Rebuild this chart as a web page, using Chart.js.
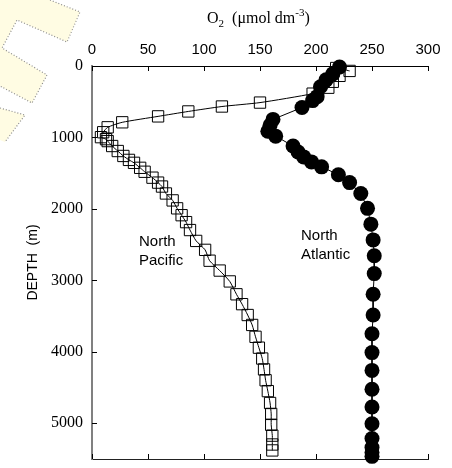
<!DOCTYPE html>
<html lang="en">

<head>
    <meta charset="UTF-8">
    <title>Oxygen profiles</title>
    <script src="https://cdn.jsdelivr.net/npm/chart.js"></script>
    <style>
        html, body { margin: 0; padding: 0; background: #fff; }
        .zone { width: 452px; height: 468px; position: relative; }
    </style>
</head>

<body>
    <div class="zone">
        <canvas id="o2Chart" width="452" height="468"></canvas>
    </div>

    <script>
        // oxygen (umol dm-3) against depth (m)
        const pacificO2 = [230, 218, 221, 215, 211, 197, 150, 116, 86, 59, 27, 14, 10, 8, 12.5, 14, 18, 23, 28, 33, 37.5, 43, 47, 54, 59, 62.5, 66, 72, 76, 80, 84, 87.5, 93, 101, 105, 114, 123, 129, 134, 139, 143, 146, 149, 152, 153.6, 155, 157, 159, 160, 160, 161, 161, 161];
        const pacificDepth = [69, 28, 138, 221, 304, 387, 512, 567, 636, 705, 788, 858, 927, 996, 1024, 1051, 1120, 1190, 1259, 1314, 1355, 1425, 1480, 1563, 1632, 1687, 1784, 1881, 1992, 2088, 2185, 2296, 2448, 2573, 2725, 2863, 3015, 3195, 3333, 3485, 3624, 3790, 3942, 4094, 4246, 4398, 4550, 4716, 4869, 5021, 5173, 5297, 5380];

        const atlanticO2 = [221, 215, 209, 204, 201, 197, 187.5, 161.6, 159, 157, 164, 179.5, 184, 189, 196, 205, 220, 230, 240, 246, 249, 251, 252, 252, 251, 251, 250, 250, 250, 250, 250, 250, 250, 250, 250, 250];
        const atlanticDepth = [14, 110, 194, 290, 429, 484, 581, 747, 830, 913, 982, 1120, 1203, 1272, 1342, 1411, 1521, 1632, 1784, 1992, 2213, 2434, 2656, 2905, 3195, 3485, 3748, 4011, 4260, 4523, 4772, 5007, 5214, 5339, 5408, 5463];

        const o2Ticks = [0, 50, 100, 150, 200, 250, 300];
        const depthTicks = [0, 1000, 2000, 3000, 4000, 5000];

        function toPoints(xs, ys) {
            return xs.map((v, i) => ({ x: v, y: ys[i] }));
        }

        // pale sticky-note shapes in the corner
        const notePlugin = {
            id: 'note',
            beforeDraw(chart) {
                const c = chart.ctx;
                const shapes = [
                    [[0, 0], [50, 0], [80, 12], [67, 42], [17, 20], [2, 48], [47, 75], [32, 103], [0, 86]],
                    [[0, 108], [25, 115], [5, 142], [0, 140]]
                ];
                c.save();
                shapes.forEach(s => {
                    c.beginPath();
                    s.forEach((p, i) => i ? c.lineTo(p[0], p[1]) : c.moveTo(p[0], p[1]));
                    c.closePath();
                    c.fillStyle = '#fffce3';
                    c.fill();
                    // dotted edge only along the inner outline
                    const edge = s.length === 4 ? s.slice(0, 3) : s.slice(1);
                    c.beginPath();
                    edge.forEach((p, i) => i ? c.lineTo(p[0], p[1]) : c.moveTo(p[0], p[1]));
                    c.setLineDash([1, 2]);
                    c.strokeStyle = '#8c8c8c';
                    c.lineWidth = 1.2;
                    c.stroke();
                });
                c.restore();
            }
        };

        // inward tick marks, axis title with sub/superscript, series labels
        const decoPlugin = {
            id: 'deco',
            afterDraw(chart) {
                const c = chart.ctx;
                const x = chart.scales.x, y = chart.scales.y;
                const a = chart.chartArea;
                c.save();
                c.strokeStyle = '#000';
                c.lineWidth = 1;
                c.beginPath();
                o2Ticks.forEach(v => {
                    const px = Math.round(x.getPixelForValue(v)) + 0.5;
                    c.moveTo(px, a.top); c.lineTo(px, a.top + 5);
                    c.moveTo(px, a.bottom); c.lineTo(px, a.bottom - 5);
                });
                depthTicks.forEach(v => {
                    const py = Math.round(y.getPixelForValue(v)) + 0.5;
                    c.moveTo(a.left, py); c.lineTo(a.left + 5, py);
                });
                c.stroke();

                // O2 (umol dm-3)
                c.fillStyle = '#000';
                c.textBaseline = 'alphabetic';
                c.textAlign = 'left';
                const big = '16px "Liberation Serif", "Times New Roman", serif';
                const small = '11px "Liberation Serif", "Times New Roman", serif';
                let tx = 207;
                const ty = 23;
                const parts = [
                    ['O', big, 0], ['2', small, 4], ['  (\u03bcmol dm', big, 0], ['-3', small, -7], [')', big, 0]
                ];
                parts.forEach(p => {
                    c.font = p[1];
                    c.fillText(p[0], tx, ty + p[2]);
                    tx += c.measureText(p[0]).width;
                });

                c.font = '15px "Liberation Sans", Arial, sans-serif';
                c.fillText('North', 139, 246);
                c.fillText('Pacific', 139, 265);
                c.fillText('North', 301, 240);
                c.fillText('Atlantic', 301, 259);
                c.restore();
            }
        };

        new Chart(document.getElementById('o2Chart'), {
            type: 'scatter',
            data: {
                datasets: [{
                    label: 'North Pacific',
                    data: toPoints(pacificO2, pacificDepth),
                    showLine: true,
                    borderColor: '#000',
                    borderWidth: 1,
                    tension: 0.2,
                    pointStyle: 'rect',
                    pointRadius: 8,
                    pointBorderColor: '#000',
                    pointBorderWidth: 1,
                    pointBackgroundColor: 'rgba(0,0,0,0)',
                    clip: false
                }, {
                    label: 'North Atlantic',
                    data: toPoints(atlanticO2, atlanticDepth),
                    showLine: true,
                    borderColor: '#000',
                    borderWidth: 1,
                    tension: 0,
                    pointStyle: 'circle',
                    pointRadius: 7.5,
                    pointBorderWidth: 0,
                    pointBackgroundColor: '#000',
                    clip: false
                }]
            },
            options: {
                responsive: false,
                animation: false,
                layout: { padding: { left: 0, right: 24, top: 0, bottom: 0 } },
                plugins: {
                    legend: { display: false },
                    tooltip: { enabled: false }
                },
                scales: {
                    x: {
                        type: 'linear',
                        position: 'top',
                        min: 0,
                        max: 300,
                        afterBuildTicks: s => { s.ticks = o2Ticks.map(v => ({ value: v })); },
                        afterFit: s => { s.height = 66; },
                        ticks: {
                            color: '#000',
                            padding: 7,
                            font: { family: '"Liberation Sans", Arial, sans-serif', size: 15 }
                        },
                        grid: { drawOnChartArea: false, drawTicks: false },
                        border: { color: '#000', width: 1 }
                    },
                    x2: {
                        type: 'linear',
                        position: 'bottom',
                        min: 0,
                        max: 300,
                        afterFit: s => { s.height = 5; },
                        ticks: { display: false },
                        grid: { display: false },
                        border: { color: '#222', width: 1 }
                    },
                    y: {
                        type: 'linear',
                        reverse: true,
                        min: 0,
                        max: 5500,
                        afterBuildTicks: s => { s.ticks = depthTicks.map(v => ({ value: v })); },
                        afterFit: s => {
                            s.width = 92;
                            s.paddingTop = 0;
                            s.paddingBottom = 0;
                        },
                        ticks: {
                            color: '#000',
                            padding: 9,
                            callback: v => String(v),
                            font: { family: '"Liberation Serif", "Times New Roman", serif', size: 16 }
                        },
                        title: {
                            display: true,
                            text: 'DEPTH  (m)',
                            color: '#000',
                            font: { family: '"Liberation Sans", Arial, sans-serif', size: 14 },
                            padding: { top: 25 }
                        },
                        grid: { drawOnChartArea: false, drawTicks: false },
                        border: { color: '#808080', width: 2 }
                    }
                }
            },
            plugins: [notePlugin, decoPlugin]
        });
    </script>
</body>

</html>
